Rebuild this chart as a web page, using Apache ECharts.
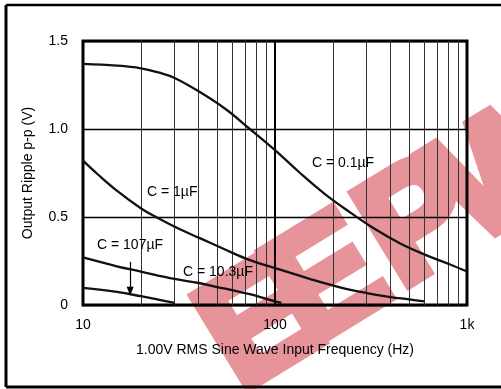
<!DOCTYPE html>
<html>
<head>
<meta charset="utf-8">
<script src="https://cdn.jsdelivr.net/npm/echarts@6/dist/echarts.min.js"></script>
<style>
  html, body { margin: 0; padding: 0; background: #fff; }
  #chart { width: 501px; height: 389px; }
</style>
</head>
<body>
<div id="chart"></div>
<script>
// curves: [frequency Hz, ripple V]
const c01uF = [[10, 1.37], [15, 1.36], [20, 1.345], [25, 1.32], [30, 1.29], [40.6, 1.21], [55, 1.115], [74, 1.0],
  [100, 0.88], [135, 0.75], [182, 0.63], [247, 0.525], [333, 0.43], [449, 0.35], [607, 0.285], [817, 0.23], [1000, 0.19]];
const c1uF = [[10, 0.82], [12, 0.74], [15, 0.65], [20, 0.55], [24, 0.5], [32, 0.43], [40.6, 0.38], [55, 0.315],
  [74, 0.255], [100, 0.21], [150, 0.15], [218, 0.1], [300, 0.068], [400, 0.045], [500, 0.032], [600, 0.02]];
const c103uF = [[10, 0.27], [15, 0.22], [20, 0.19], [30, 0.148], [40, 0.125], [50, 0.102], [60, 0.084], [75, 0.06],
  [90, 0.035], [100, 0.02], [108, 0.012]];
const c107uF = [[10, 0.097], [15, 0.074], [20, 0.05], [25, 0.029], [30, 0.012]];

// minor log grid lines
const minorFreqs = [20, 30, 40, 50, 60, 70, 80, 90, 200, 300, 400, 500, 600, 700, 800, 900];

const curveNames = ["C = 0.1µF", "C = 1µF", "C = 107µF", "C = 10.3µF"];
const watermark = ["E", "E", "P", "W"];

let chart = echarts.init(document.getElementById("chart"));

const font = "Liberation Sans, Arial, sans-serif";

function curve(name, data) {
    return {
        name: name,
        type: "line",
        data: data,
        smooth: 0.4,
        showSymbol: false,
        lineStyle: { color: "#111", width: 2.3 },
        z: 5,
    };
}

function label(text, x, y) {
    return {
        type: "text",
        x: x,
        y: y,
        z: 10,
        style: { text: text, font: "14px " + font, fill: "#000", textVerticalAlign: "middle" },
    };
}

// watermark letters along a slanted baseline, drawn under the chart
const wmPos = [[262, 329], [329, 285], [422, 226], [512, 172]];
const wmGraphics = watermark.map((ch, i) => ({
    type: "text",
    x: wmPos[i][0],
    y: wmPos[i][1],
    rotation: 0.55,
    z: -10,
    style: {
        text: ch,
        font: "bold 155px " + font,
        fill: "#e6939a",
        stroke: "#e6939a",
        lineWidth: 10,
        lineJoin: "miter",
        textAlign: "center",
        textVerticalAlign: "middle",
    },
}));

let options = {
    animation: false,
    backgroundColor: "#fff",
    grid: {
        left: 83,
        right: 34,
        top: 41,
        bottom: 84,
        show: true,
        borderColor: "#000",
        borderWidth: 3,
    },
    xAxis: {
        type: "log",
        logBase: 10,
        min: 10,
        max: 1000,
        name: "1.00V RMS Sine Wave Input Frequency (Hz)",
        nameLocation: "middle",
        nameGap: 38,
        nameTextStyle: { color: "#000", fontSize: 14, fontFamily: font },
        axisLine: { show: false },
        axisTick: { show: false },
        axisLabel: {
            color: "#000",
            fontSize: 14,
            fontFamily: font,
            margin: 13,
            formatter: function (v) {
                return v >= 1000 ? "1k" : String(v);
            },
        },
        splitLine: { show: true, lineStyle: { color: "#000", width: 2 } },
    },
    yAxis: {
        type: "value",
        min: 0,
        max: 1.5,
        interval: 0.5,
        name: "Output Ripple p-p (V)",
        nameLocation: "middle",
        nameRotate: 90,
        nameGap: 48,
        nameTextStyle: { color: "#000", fontSize: 14, fontFamily: font },
        axisLine: { show: false },
        axisTick: { show: false },
        axisLabel: {
            color: "#000",
            fontSize: 14,
            fontFamily: font,
            margin: 15,
            formatter: function (v) {
                return v === 0 ? "0" : v.toFixed(1);
            },
        },
        splitLine: { show: true, lineStyle: { color: "#000", width: 1.4 } },
    },
    series: [
        {
            type: "line",
            data: [],
            silent: true,
            markLine: {
                silent: true,
                symbol: "none",
                label: { show: false },
                lineStyle: { color: "#333", width: 1, type: "solid" },
                data: minorFreqs.map((f) => ({ xAxis: f })),
            },
        },
        curve("0.1uF", c01uF),
        curve("1uF", c1uF),
        curve("10.3uF", c103uF),
        Object.assign(curve("107uF", c107uF), {
            markLine: {
                silent: true,
                symbolSize: [7, 9],
                label: { show: false },
                lineStyle: { color: "#000", width: 1.2, type: "solid" },
                data: [[
                    { coord: [17.6, 0.245], symbol: "none" },
                    { coord: [17.6, 0.078], symbol: "triangle", symbolRotate: 180 },
                ]],
            },
        }),
    ],
    graphic: wmGraphics.concat([
        // outer frame
        { type: "line", shape: { x1: 6, y1: 5, x2: 6, y2: 387 }, style: { stroke: "#000", lineWidth: 3 } },
        { type: "line", shape: { x1: 6, y1: 5, x2: 501, y2: 5 }, style: { stroke: "#000", lineWidth: 2.5 } },
        { type: "line", shape: { x1: 6, y1: 387, x2: 501, y2: 387 }, style: { stroke: "#000", lineWidth: 3 } },
        // curve labels
        label(curveNames[0], 312, 163),
        label(curveNames[1], 147, 192),
        label(curveNames[2], 97, 245),
        label(curveNames[3], 183, 272),
    ]),
};

chart.setOption(options);
</script>
</body>
</html>
